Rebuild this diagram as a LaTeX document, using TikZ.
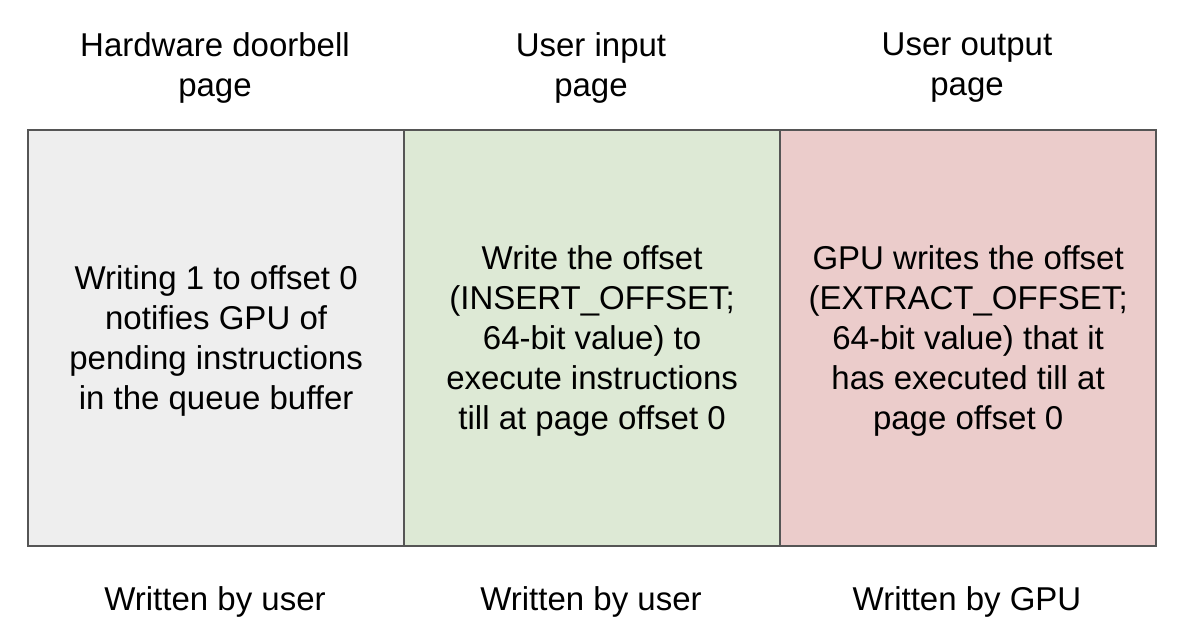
\documentclass[tikz,border=0pt]{standalone}
\usepackage{fontspec}
\setmainfont{Liberation Sans}
\definecolor{bordc}{HTML}{555555}
\definecolor{grayf}{HTML}{EEEEEE}
\definecolor{greenf}{HTML}{DDE9D5}
\definecolor{pinkf}{HTML}{EBCCCB}
\tikzset{
  cell/.style={draw=bordc, line width=2.2pt, inner sep=0pt, minimum width=376pt, minimum height=416pt, anchor=north west},
  txt/.style={align=center, font=\fontsize{33}{40}\selectfont, inner sep=0pt}
}
\begin{document}
\begin{tikzpicture}[x=1pt,y=-1pt]
\useasboundingbox (0,0) rectangle (1190,634);
\node[cell, fill=grayf] (c1) at (27,129) {};
\node[cell, fill=greenf] (c2) at (403,129) {};
\node[cell, fill=pinkf] (c3) at (779,129) {};
\node[txt] (b1) at ([yshift=-3pt]c1.center) {Writing 1 to offset 0\\notifies GPU of\\pending instructions\\in the queue buffer};
\node[txt] (b2) at ([yshift=-3pt]c2.center) {Write the offset\\(INSERT\_OFFSET;\\64-bit value) to\\execute instructions\\till at page offset 0};
\node[txt] (b3) at ([yshift=-3pt]c3.center) {GPU writes the offset\\(EXTRACT\_OFFSET;\\64-bit value) that it\\has executed till at\\page offset 0};
\node[txt] (h1) at (215,68) {Hardware doorbell\\page};
\node[txt] (h2) at (591,68) {User input\\page};
\node[txt] (h3) at (967,68) {User output\\page};
\node[txt] (f1) at (215,602) {Written by user};
\node[txt] (f2) at (591,602) {Written by user};
\node[txt] (f3) at (967,602) {Written by GPU};
\end{tikzpicture}
\end{document}
